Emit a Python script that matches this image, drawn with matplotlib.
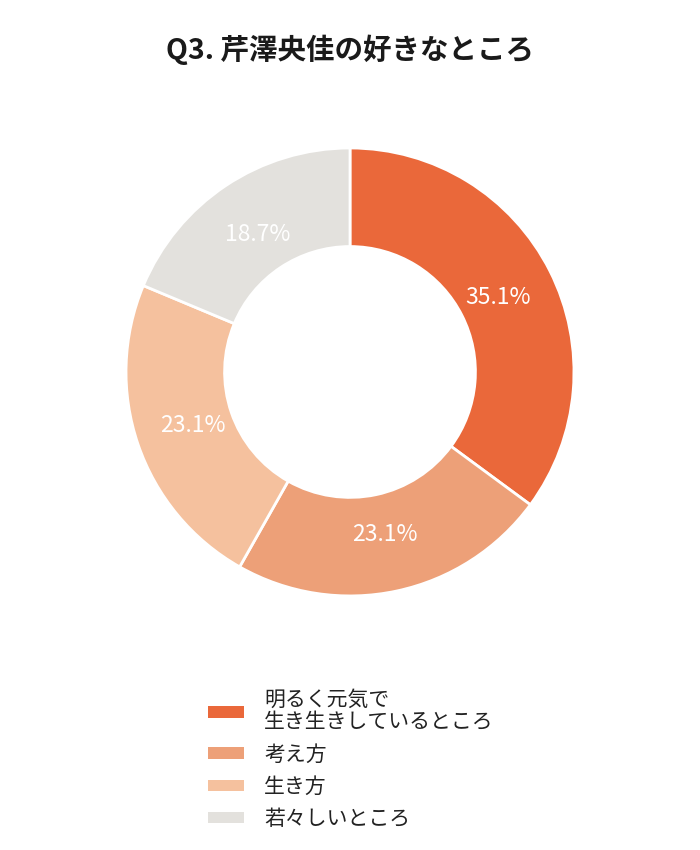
import matplotlib
matplotlib.use('Agg')
from matplotlib import pyplot as plt

plt.rcParams['font.family'] = ['Noto Sans CJK JP', 'DejaVu Sans']

labels = ['明るく元気で\n生き生きしているところ', '考え方', '生き方', '若々しいところ']
values = [35.1, 23.1, 23.1, 18.7]
colors = ['#EA683A', '#EDA078', '#F5C19E', '#E3E1DD']
title = 'Q3. 芹澤央佳の好きなところ'

fig = plt.figure(figsize=(7, 8.5), dpi=100)
# pie centred at (350, 372) px with outer radius 224 px
ax = fig.add_axes([0.5 - 0.32, 0.5624 - 0.2635, 0.64, 0.527])

wedges, texts, autotexts = ax.pie(
    values,
    colors=colors,
    startangle=90,
    counterclock=False,
    radius=1.0,
    autopct='%.1f%%',
    pctdistance=0.74,
    wedgeprops=dict(width=0.44, edgecolor='white', linewidth=2),
    textprops=dict(color='white', fontsize=16.5),
)
ax.set_xlim(-1, 1)
ax.set_ylim(-1, 1)
ax.set_aspect('equal')
ax.axis('off')

fig.text(0.5, 1 - 50 / 850, title, ha='center', va='center',
         fontsize=20.5, fontweight='bold', color='#1a1a1a')

leg = fig.legend(
    wedges, labels,
    loc='upper left',
    bbox_to_anchor=(208 / 700, 1 - 689 / 850),
    frameon=False,
    fontsize=15,
    handlelength=1.75,
    handleheight=0.45,
    handletextpad=0.95,
    labelspacing=0.5,
    borderpad=0,
    borderaxespad=0,
)
for t in leg.get_texts():
    t.set_color('#222222')
    t.set_linespacing(1.0)
for h in leg.legend_handles:
    h.set_edgecolor('none')

fig.savefig('out.png', dpi=100, facecolor='white')
